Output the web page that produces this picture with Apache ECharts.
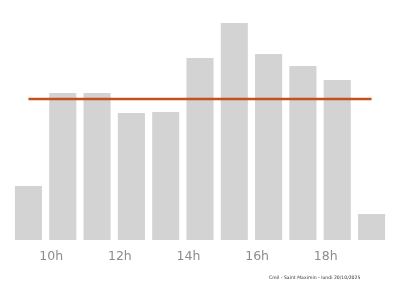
<!DOCTYPE html>
<html><head><meta charset="utf-8">
<script src="https://cdn.jsdelivr.net/npm/echarts@6/dist/echarts.min.js"></script>
<style>html,body{margin:0;padding:0;background:#fff}#c{width:400px;height:286px}</style>
</head><body><div id="c"></div>
<script>
const hours = ['9h','10h','11h','12h','13h','14h','15h','16h','17h','18h','19h'];
const affluence = [54, 147, 147, 127, 128, 182, 217, 186, 174, 160, 26];
const moyenne = [141, 141, 141, 141, 141, 141, 141, 141, 141, 141, 141];
const footer = 'Creil - Saint Maximin - lundi 20/10/2025';

const chart = echarts.init(document.getElementById('c'), null, {renderer:'canvas'});
chart.setOption({
  animation: false,
  grid: {left: 11.3, right: 11.3, top: 0, bottom: 46, containLabel: false},
  xAxis: {
    type: 'category', data: hours,
    axisLine: {show: false}, axisTick: {show: false},
    axisLabel: {interval: (i) => i % 2 === 1, color: '#8c8c8c', fontSize: 12.5, margin: 10,
      fontFamily: 'DejaVu Sans', padding: [0, 23, 0, 0]}
  },
  yAxis: {type: 'value', min: 0, max: 240, show: false, splitLine: {show: false}},
  graphic: [{type: 'text', left: 269, top: 275.5, style: {text: footer, fontSize: 4.6, fill: '#333', fontFamily: 'DejaVu Sans'}}],
  series: [
    {type: 'bar', data: affluence, barCategoryGap: '21%', itemStyle: {color: '#d3d3d3'}, silent: true},
    {type: 'line', data: moyenne, symbol: 'none', lineStyle: {color: '#c2511b', width: 2.3}, z: 5}
  ]
});
</script></body></html>
